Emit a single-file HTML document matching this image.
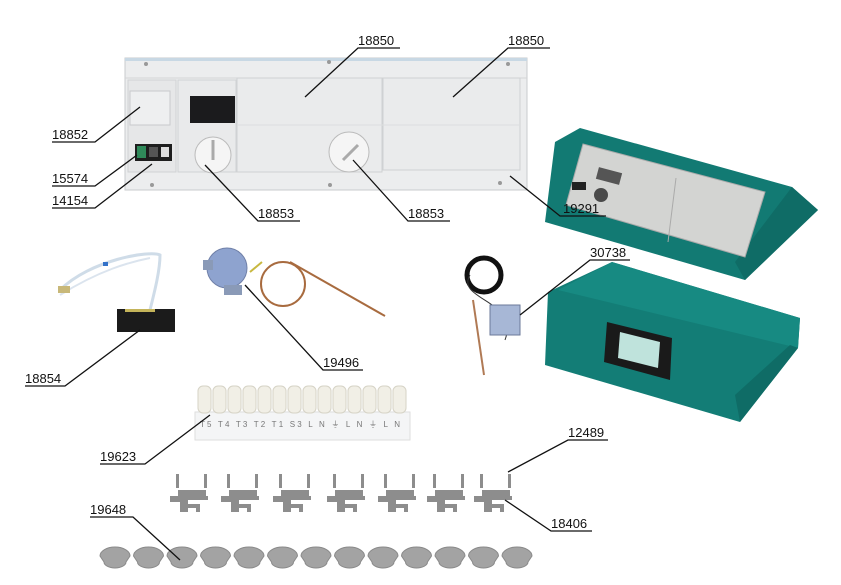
<!DOCTYPE html>
<html><head><meta charset="utf-8"><style>
html,body{margin:0;padding:0;background:#fff}
svg{display:block}
text{font-family:"Liberation Sans",sans-serif;font-size:13px;fill:#111}
</style></head><body>
<svg width="841" height="585" viewBox="0 0 841 585" xmlns="http://www.w3.org/2000/svg">
<!-- main panel -->
<rect x="125" y="58" width="402" height="132" fill="#ecedee" stroke="#c9cbcd"/>
<rect x="125" y="58" width="402" height="3" fill="#c8d8e4"/>
<line x1="125" y1="78" x2="527" y2="78" stroke="#d3d5d7"/>
<rect x="128" y="80" width="48" height="92" fill="#e6e7e8" stroke="#d0d2d4"/>
<rect x="130" y="91" width="40" height="34" fill="#eeeff0" stroke="#c8cacc"/>
<rect x="178" y="80" width="58" height="92" fill="#e9eaeb" stroke="#d0d2d4"/>
<rect x="190" y="96" width="45" height="27" fill="#1b1b1d"/>
<rect x="237" y="78" width="145" height="94" fill="#eaebec" stroke="#cfd1d3"/>
<rect x="383" y="78" width="137" height="92" fill="#eaebec" stroke="#cfd1d3"/>
<line x1="237" y1="125" x2="520" y2="125" stroke="#dcdedf"/>
<rect x="135" y="144" width="37" height="17" fill="#1e1e1e"/>
<rect x="137" y="146" width="9" height="12" fill="#2f8a5a"/>
<rect x="149" y="147" width="9" height="10" fill="#555"/>
<rect x="161" y="147" width="8" height="10" fill="#ddd"/>
<circle cx="213" cy="155" r="18" fill="#f5f5f5" stroke="#bbb"/>
<line x1="213" y1="140" x2="213" y2="160" stroke="#aaa" stroke-width="3"/>
<circle cx="349" cy="152" r="20" fill="#f5f5f5" stroke="#bbb"/>
<line x1="343" y1="160" x2="358" y2="145" stroke="#aaa" stroke-width="3"/>
<g fill="#999"><circle cx="146" cy="64" r="2"/><circle cx="329" cy="62" r="2"/><circle cx="508" cy="64" r="2"/><circle cx="152" cy="185" r="2"/><circle cx="330" cy="185" r="2"/><circle cx="500" cy="183" r="2"/></g>

<!-- teal box 1 -->
<polygon points="555,142 580,128 792,187 818,210 745,280 545,222" fill="#127a73"/>
<polygon points="792,187 818,210 745,280 735,262" fill="#0f6c66"/>
<polygon points="583,144 765,192 745,257 566,205" fill="#d3d4d2" stroke="#aaa"/>
<rect x="597" y="170" width="24" height="12" fill="#555" transform="rotate(15 609 176)"/>
<circle cx="601" cy="195" r="7" fill="#4a4a4a"/>
<rect x="572" y="182" width="14" height="8" fill="#222"/>
<line x1="676" y1="178" x2="668" y2="242" stroke="#aaa"/>

<!-- teal box 2 -->
<polygon points="548,292 612,262 800,318 798,348 740,422 545,365" fill="#137d76"/>
<polygon points="612,262 800,318 798,348 558,290" fill="#178a82"/>
<polygon points="798,348 740,422 735,395 790,345" fill="#0f6c66"/>
<polygon points="607,322 672,338 670,380 604,362" fill="#1a1a1a"/>
<polygon points="620,332 660,342 658,368 618,358" fill="#bfe3dc"/>

<!-- sensor 18854 -->
<path d="M60,290 C90,260 150,250 160,255 C160,270 155,290 150,310" stroke="#cfdce8" stroke-width="3" fill="none"/>
<path d="M60,295 C100,270 130,262 150,258" stroke="#dbe4ee" stroke-width="2" fill="none"/>
<rect x="58" y="286" width="12" height="7" fill="#c8b879"/>
<rect x="103" y="262" width="5" height="4" fill="#3372c9"/>
<rect x="117" y="309" width="58" height="23" fill="#1b1b1b"/>
<rect x="125" y="309" width="30" height="3" fill="#c4b45a"/>
<!-- thermostat 19496 -->
<circle cx="283" cy="284" r="22" fill="none" stroke="#a86b3f" stroke-width="2"/>
<line x1="290" y1="262" x2="385" y2="316" stroke="#a86b3f" stroke-width="2"/>
<line x1="250" y1="272" x2="262" y2="262" stroke="#c8b840" stroke-width="2"/>
<circle cx="227" cy="268" r="20" fill="#8ea3cf" stroke="#7080a8"/>
<rect x="203" y="260" width="10" height="10" fill="#8a9ab7"/>
<rect x="224" y="285" width="18" height="10" fill="#8a9ab7"/>
<!-- thermostat 30738 -->
<circle cx="484" cy="275" r="17" fill="none" stroke="#111" stroke-width="5"/>
<path d="M470,275 C455,300 520,300 505,340" stroke="#333" fill="none"/>
<line x1="473" y1="300" x2="484" y2="375" stroke="#b07a55" stroke-width="2"/>
<rect x="490" y="305" width="30" height="30" fill="#a7b7d6" stroke="#6b7a99"/>

<!-- terminal strip -->
<rect x="195" y="412" width="215" height="28" fill="#f4f5f6" stroke="#dedede"/>
<g fill="#f1efe6" stroke="#d6d3c6">
<rect x="198" y="386" width="13" height="27" rx="5"/><rect x="213" y="386" width="13" height="27" rx="5"/><rect x="228" y="386" width="13" height="27" rx="5"/><rect x="243" y="386" width="13" height="27" rx="5"/><rect x="258" y="386" width="13" height="27" rx="5"/><rect x="273" y="386" width="13" height="27" rx="5"/><rect x="288" y="386" width="13" height="27" rx="5"/><rect x="303" y="386" width="13" height="27" rx="5"/><rect x="318" y="386" width="13" height="27" rx="5"/><rect x="333" y="386" width="13" height="27" rx="5"/><rect x="348" y="386" width="13" height="27" rx="5"/><rect x="363" y="386" width="13" height="27" rx="5"/><rect x="378" y="386" width="13" height="27" rx="5"/><rect x="393" y="386" width="13" height="27" rx="5"/>
</g>
<text x="200" y="427" style="font-size:8px;fill:#777" textLength="200">T5 T4 T3 T2 T1 S3 L N ⏚ L N ⏚ L N</text>

<!-- clamps -->
<g fill="#8d8d8d">
<g id="c"><rect x="176" y="474" width="3" height="14"/><rect x="204" y="474" width="3" height="14"/><path d="M170,496 h8 v-6 h28 v6 h2 v4 h-20 v4 h12 v8 h-4 v-4 h-8 v4 h-8 v-10 h-10z"/></g>
<use href="#c" x="51"/><use href="#c" x="103"/><use href="#c" x="157"/><use href="#c" x="208"/><use href="#c" x="257"/><use href="#c" x="304"/>
</g>
<!-- caps -->
<g fill="#a3a3a3" stroke="#8a8a8a">
<path id="p" d="M100,556 a15,9 0 0 1 30,0 l-4,6 a11,6 0 0 1 -22,0z"/>
<use href="#p" x="33.5"/><use href="#p" x="67"/><use href="#p" x="100.5"/><use href="#p" x="134"/><use href="#p" x="167.5"/><use href="#p" x="201"/><use href="#p" x="234.5"/><use href="#p" x="268"/><use href="#p" x="301.5"/><use href="#p" x="335"/><use href="#p" x="368.5"/><use href="#p" x="402"/>
</g>

<!-- labels & leaders -->
<g stroke="#111" stroke-width="1.3" fill="none">
<polyline points="305,97 358,48 400,48"/>
<polyline points="453,97 508,48 550,48"/>
<polyline points="140,107 95,142 52,142"/>
<polyline points="137,155 95,186 52,186"/>
<polyline points="152,164 95,208 52,208"/>
<polyline points="205,165 258,221 300,221"/>
<polyline points="353,160 408,221 450,221"/>
<polyline points="510,176 560,216 606,216"/>
<polyline points="520,315 590,260 630,260"/>
<polyline points="140,330 65,386 25,386"/>
<polyline points="245,285 323,370 363,370"/>
<polyline points="210,415 145,464 100,464"/>
<polyline points="508,472 568,440 608,440"/>
<polyline points="505,500 551,531 592,531"/>
<polyline points="180,560 133,517 90,517"/>
</g>
<text x="358" y="45">18850</text>
<text x="508" y="45">18850</text>
<text x="52" y="139">18852</text>
<text x="52" y="183">15574</text>
<text x="52" y="205">14154</text>
<text x="258" y="218">18853</text>
<text x="408" y="218">18853</text>
<text x="563" y="213">19291</text>
<text x="590" y="257">30738</text>
<text x="25" y="383">18854</text>
<text x="323" y="367">19496</text>
<text x="100" y="461">19623</text>
<text x="568" y="437">12489</text>
<text x="551" y="528">18406</text>
<text x="90" y="514">19648</text>
</svg>
</body></html>
